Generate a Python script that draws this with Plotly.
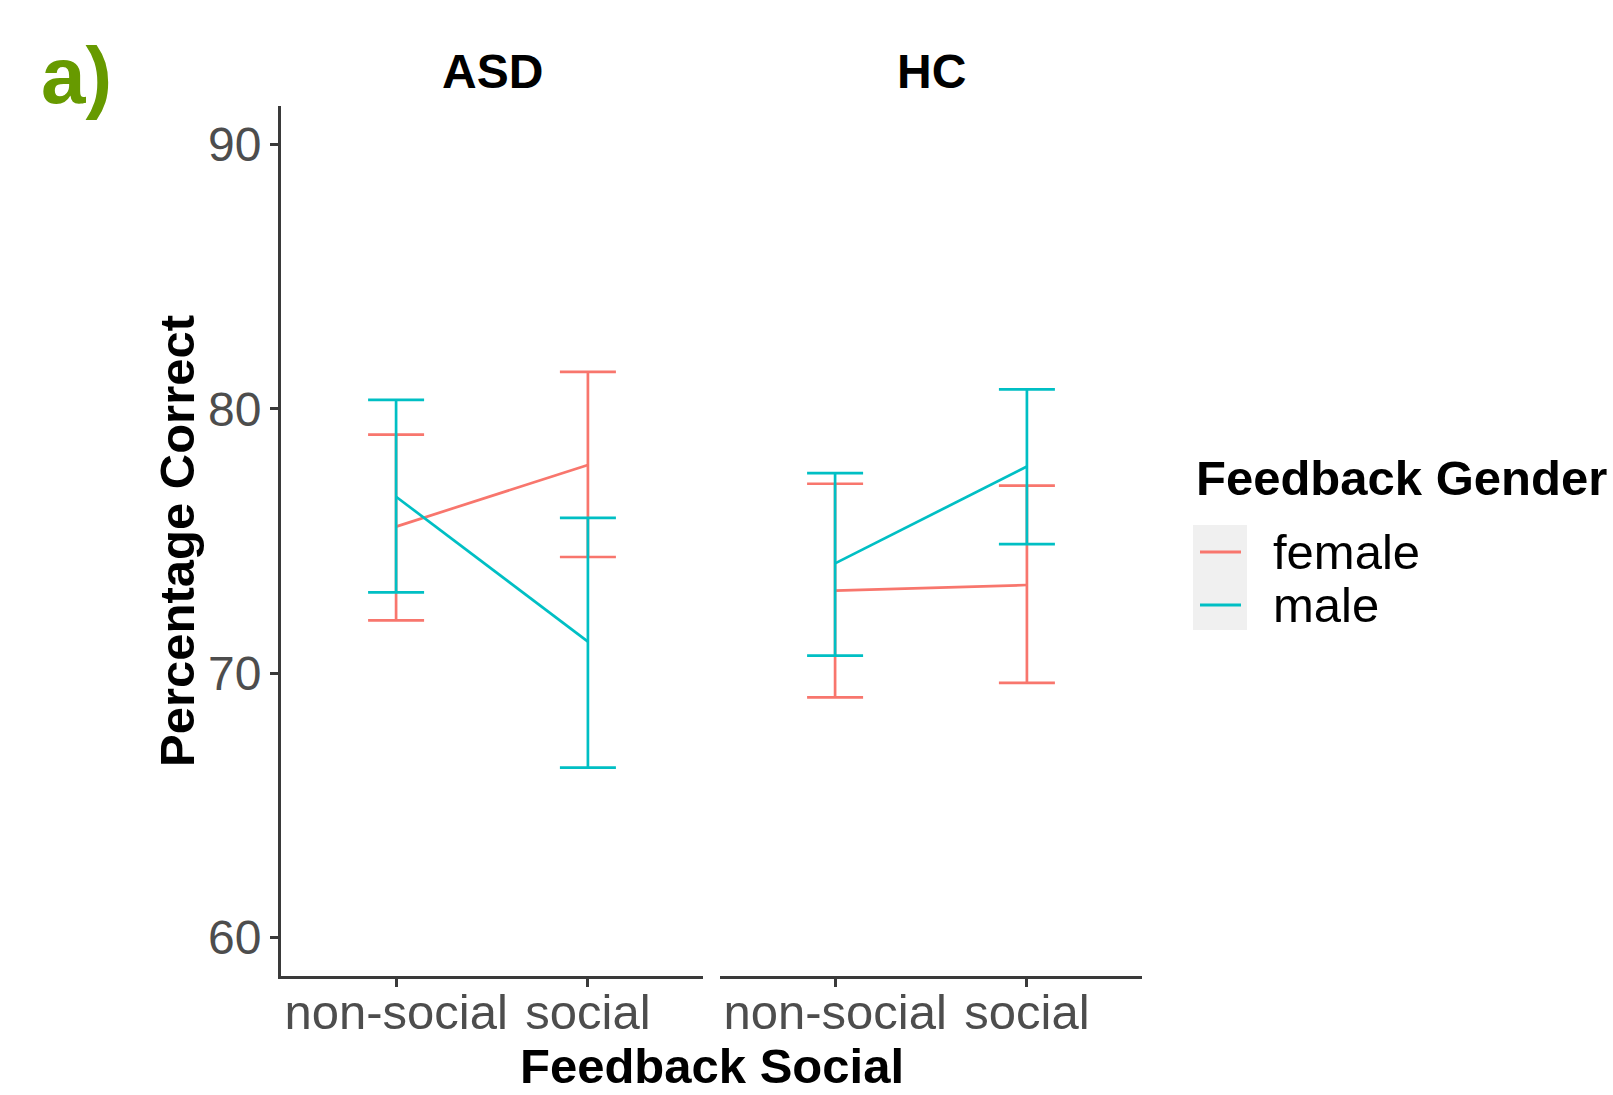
import plotly.graph_objects as go

# ---- data ----
categories = ["non-social", "social"]
panels = ["ASD", "HC"]
genders = ["female", "male"]

asd_female_mean = [75.55, 77.88]
asd_female_low = [72.00, 74.40]
asd_female_high = [79.03, 81.40]

asd_male_mean = [76.68, 71.20]
asd_male_low = [73.06, 66.43]
asd_male_high = [80.34, 75.88]

hc_female_mean = [73.13, 73.34]
hc_female_low = [69.09, 69.64]
hc_female_high = [77.17, 77.10]

hc_male_mean = [74.16, 77.82]
hc_male_low = [70.67, 74.89]
hc_male_high = [77.57, 80.74]

y_ticks = [60, 70, 80, 90]

colors = {"female": "#F8766D", "male": "#00BFC4"}

series = {
    ("ASD", "female"): (asd_female_mean, asd_female_low, asd_female_high),
    ("ASD", "male"): (asd_male_mean, asd_male_low, asd_male_high),
    ("HC", "female"): (hc_female_mean, hc_female_low, hc_female_high),
    ("HC", "male"): (hc_male_mean, hc_male_low, hc_male_high),
}

W, H = 1613, 1095
FONT = "Liberation Sans, Arial, Helvetica, sans-serif"
AXIS_COL = "#3a3a3a"
TICK_COL = "#4d4d4d"
LW = 2.7

fig = go.Figure()
for pi, panel in enumerate(panels):
    xa = "x" if pi == 0 else "x2"
    ya = "y" if pi == 0 else "y2"
    for g in genders:
        m, lo, hi = series[(panel, g)]
        fig.add_trace(go.Scatter(
            x=categories, y=m, mode="lines", xaxis=xa, yaxis=ya,
            name=g, showlegend=False, hoverinfo="skip",
            line=dict(color=colors[g], width=LW),
            error_y=dict(type="data", symmetric=False,
                         array=[h - v for h, v in zip(hi, m)],
                         arrayminus=[v - l for v, l in zip(m, lo)],
                         color=colors[g], thickness=LW, width=28),
        ))

def px_x(p):
    return p / W

def px_y(p):
    return 1 - p / H

x_common = dict(type="category", range=[-0.6, 1.6], showline=True, linecolor=AXIS_COL,
                linewidth=3, ticks="outside", ticklen=8, tickwidth=2.5, tickcolor=AXIS_COL,
                tickfont=dict(size=49, color=TICK_COL, family=FONT), showgrid=False,
                ticklabelstandoff=-17,
                zeroline=False, fixedrange=True)
y_dom = [px_y(976), px_y(106)]

fig.update_layout(
    width=W, height=H,
    margin=dict(l=0, r=0, t=0, b=0),
    paper_bgcolor="white", plot_bgcolor="white",
    font=dict(family=FONT),
    xaxis=dict(domain=[px_x(281), px_x(703)], anchor="y", **x_common),
    xaxis2=dict(domain=[px_x(720), px_x(1142)], anchor="y2", **x_common),
    yaxis=dict(domain=y_dom, range=[58.55, 91.46], anchor="x", showline=True,
               linecolor=AXIS_COL, linewidth=3, ticks="outside", ticklen=8,
               tickwidth=2.5, tickcolor=AXIS_COL, tickvals=y_ticks,
               tickfont=dict(size=48, color=TICK_COL, family=FONT),
               ticklabelstandoff=-1,
               showgrid=False, zeroline=False, fixedrange=True),
    yaxis2=dict(domain=y_dom, range=[58.55, 91.46], anchor="x2", showline=False,
                showticklabels=False, ticks="", showgrid=False, zeroline=False,
                fixedrange=True),
    showlegend=False,
)

def label(text, x, y, size, color="black", xanchor="center", angle=0):
    return dict(text=text, x=px_x(x), y=px_y(y), xref="paper", yref="paper",
                showarrow=False, xanchor=xanchor, yanchor="middle", textangle=angle,
                font=dict(size=size, color=color, family=FONT))

ann = [
    label("<b>a)</b>", 76, 76, 80, color="#679a00"),
    label("<b>ASD</b>", 492, 71, 48),
    label("<b>HC</b>", 931, 71, 48),
    label("<b>Percentage Correct</b>", 177, 541, 49, angle=-90),
    label("<b>Feedback Social</b>", 712, 1066, 49),
    label("<b>Feedback Gender</b>", 1194, 478, 49, xanchor="left"),
]

shapes = [dict(type="rect", xref="paper", yref="paper", x0=px_x(1193), x1=px_x(1247),
               y0=px_y(630), y1=px_y(525), fillcolor="#f0f0f0", line=dict(width=0),
               layer="below")]
for g, yy in zip(genders, [552, 605]):
    shapes.append(dict(type="line", xref="paper", yref="paper", x0=px_x(1200), x1=px_x(1241),
                       y0=px_y(yy), y1=px_y(yy), line=dict(color=colors[g], width=3)))
    ann.append(label(g, 1271, yy, 49, xanchor="left"))

fig.update_layout(annotations=ann, shapes=shapes)
fig.write_html("out.html")
